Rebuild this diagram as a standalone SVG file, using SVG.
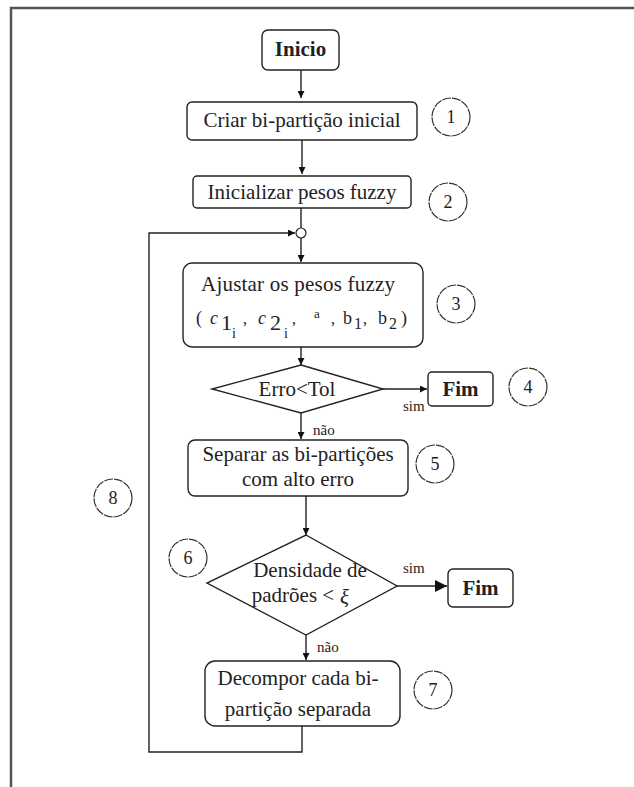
<svg xmlns="http://www.w3.org/2000/svg" width="634" height="787" viewBox="0 0 634 787">
<defs>
<marker id="ah" viewBox="0 0 10 10" refX="10" refY="5" markerWidth="7" markerHeight="7" markerUnits="userSpaceOnUse" orient="auto">
<path d="M0,0 L10,5 L0,10 Z" fill="#111"/>
</marker>
<marker id="ahb" viewBox="0 0 10 10" refX="10" refY="5" markerWidth="12" markerHeight="12" markerUnits="userSpaceOnUse" orient="auto">
<path d="M0,0 L10,5 L0,10 Z" fill="#111"/>
</marker>
</defs>
<style>
.box{fill:#fff;stroke:#222;stroke-width:1.4}
.num{fill:none;stroke:#333;stroke-width:1.2;stroke-dasharray:9 1}
.t{font-family:"Liberation Serif","Times New Roman",serif;font-size:21px;fill:#222;text-anchor:middle}
.b{font-weight:bold}
.n{font-family:"Liberation Serif","Times New Roman",serif;font-size:18px;fill:#222;text-anchor:middle}
.s{font-family:"Liberation Serif","Times New Roman",serif;font-size:15px;fill:#222}
.m{font-family:"Liberation Serif","Times New Roman",serif;fill:#222}
.ln{fill:none;stroke:#222;stroke-width:1.4}
</style>
<rect width="634" height="787" fill="#fff"/>
<g id="frame">
<path d="M11,787 L11,8 L634,8" fill="none" stroke="#555" stroke-width="2.5"/>
</g>
<g id="connectors">
<line class="ln" x1="301" y1="70" x2="301" y2="98" marker-end="url(#ah)"/>
<line class="ln" x1="302" y1="140" x2="302" y2="174" marker-end="url(#ah)"/>
<line class="ln" x1="301" y1="208" x2="301" y2="228"/>
<line class="ln" x1="301" y1="238" x2="301" y2="262" marker-end="url(#ah)"/>
<line class="ln" x1="301" y1="347" x2="301" y2="365" marker-end="url(#ah)"/>
<line class="ln" x1="383" y1="389" x2="427" y2="389" marker-end="url(#ah)"/>
<line class="ln" x1="301" y1="413" x2="301" y2="439" marker-end="url(#ah)"/>
<line class="ln" x1="306" y1="496" x2="306" y2="535" marker-end="url(#ah)"/>
<line class="ln" x1="397" y1="586" x2="447" y2="586" marker-end="url(#ahb)"/>
<line class="ln" x1="306" y1="635" x2="306" y2="660" marker-end="url(#ah)"/>
<path class="ln" d="M302,726 L302,752 L149,752 L149,233 L295,233" marker-end="url(#ah)"/>
<text class="s" x="403" y="411">sim</text>
<text class="s" x="313" y="435">não</text>
<text class="s" x="403" y="573">sim</text>
<text class="s" x="317" y="652">não</text>
</g>
<g id="n-inicio">
<rect class="box" x="262" y="30" width="77" height="40" rx="6"/>
<text class="t b" x="300.5" y="56">Inicio</text>
</g>
<g id="n-criar">
<rect class="box" x="187" y="102" width="230" height="38" rx="5"/>
<text class="t" x="302" y="127">Criar bi-partição inicial</text>
</g>
<g id="n-c1"><circle class="num" cx="451" cy="117" r="19"/><text class="n" x="451" y="123">1</text></g>
<g id="n-inicializar">
<rect class="box" x="193" y="176" width="218" height="32" rx="4"/>
<text class="t" x="302" y="199">Inicializar pesos fuzzy</text>
</g>
<g id="n-c2"><circle class="num" cx="448" cy="202" r="19"/><text class="n" x="448" y="208">2</text></g>
<g id="n-junction">
<circle cx="301" cy="233" r="5" fill="#fff" stroke="#222" stroke-width="1.2"/>
</g>
<g id="n-ajustar">
<rect class="box" x="183" y="263" width="240" height="84" rx="9"/>
<text class="t" x="298" y="291" textLength="194" lengthAdjust="spacing">Ajustar os pesos fuzzy</text>
<text class="m" font-size="18" x="196" y="324">(</text>
<text class="m" font-size="18" font-style="italic" x="210" y="324">c</text>
<text class="m" font-size="22" x="221" y="330" fill="#1f3a8a">1</text>
<text class="m" font-size="14" x="232" y="338" fill="#1f3a8a">i</text>
<text class="m" font-size="16" x="243" y="324">,</text>
<text class="m" font-size="18" font-style="italic" x="258" y="324">c</text>
<text class="m" font-size="22" x="270" y="330" fill="#1f3a8a">2</text>
<text class="m" font-size="14" x="284" y="338">i</text>
<text class="m" font-size="16" x="292" y="324">,</text>
<text class="m" font-size="13" x="314" y="318">a</text>
<text class="m" font-size="16" x="331" y="324">,</text>
<text class="m" font-size="18" x="343" y="324">b</text>
<text class="m" font-size="16" x="354" y="329" fill="#1f3a8a">1</text>
<text class="m" font-size="16" x="363" y="324">,</text>
<text class="m" font-size="18" x="378" y="324">b</text>
<text class="m" font-size="16" x="389" y="329" fill="#1f3a8a">2</text>
<text class="m" font-size="18" x="401" y="324">)</text>
</g>
<g id="n-c3"><circle class="num" cx="456" cy="304" r="19"/><text class="n" x="456" y="310">3</text></g>
<g id="n-erro">
<polygon class="box" points="301,365 383,389 301,413 212,389"/>
<text class="t" x="297" y="396">Erro&lt;Tol</text>
</g>
<g id="n-fim1">
<rect class="box" x="428" y="372" width="65" height="34" rx="4"/>
<text class="t b" x="460.5" y="396">Fim</text>
</g>
<g id="n-c4"><circle class="num" cx="528" cy="387" r="19"/><text class="n" x="528" y="393">4</text></g>
<g id="n-separar">
<rect class="box" x="188" y="440" width="220" height="56" rx="7"/>
<text class="t" x="298" y="461">Separar as bi-partições</text>
<text class="t" x="298" y="486">com alto erro</text>
</g>
<g id="n-c5"><circle class="num" cx="435" cy="464" r="19"/><text class="n" x="435" y="470">5</text></g>
<g id="n-densidade">
<polygon class="box" points="306,535 397,586 306,635 207,583"/>
<text class="t" x="310" y="577">Densidade de</text>
<text class="t" x="293" y="602">padrões &lt;</text>
<text class="m" font-size="21" font-style="italic" x="340" y="604">ξ</text>
</g>
<g id="n-c6"><circle class="num" cx="188" cy="558" r="19"/><text class="n" x="188" y="564">6</text></g>
<g id="n-fim2">
<rect class="box" x="448" y="569" width="65" height="38" rx="5"/>
<text class="t b" x="480.5" y="595">Fim</text>
</g>
<g id="n-decompor">
<rect class="box" x="205" y="661" width="195" height="65" rx="10"/>
<text class="t" x="298" y="685">Decompor cada bi-</text>
<text class="t" x="298" y="716">partição separada</text>
</g>
<g id="n-c7"><circle class="num" cx="433" cy="690" r="19"/><text class="n" x="433" y="696">7</text></g>
<g id="n-c8"><circle class="num" cx="113" cy="498" r="19"/><text class="n" x="113" y="504">8</text></g>
</svg>
